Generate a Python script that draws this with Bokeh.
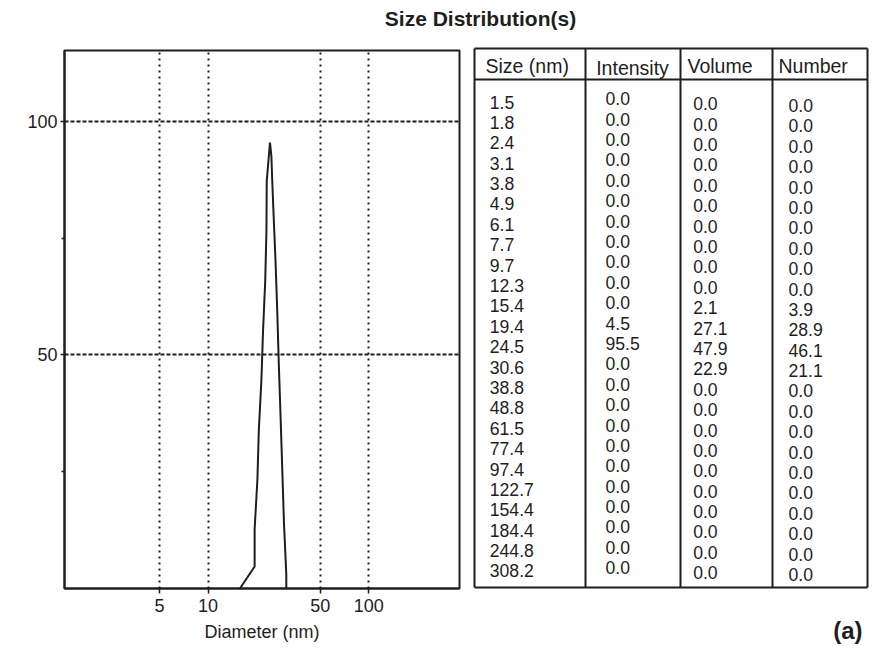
import math
from bokeh.plotting import figure
from bokeh.layouts import column, row
from bokeh.models import FixedTicker, Label, Range1d, NumeralTickFormatter
from bokeh.embed import file_html
from bokeh.resources import INLINE
from bokeh.core.properties import value

FONT = "Liberation Sans"
INK = "#1e1e1e"

# ---------------- data ----------------
sizes = ["1.5", "1.8", "2.4", "3.1", "3.8", "4.9", "6.1", "7.7", "9.7", "12.3",
         "15.4", "19.4", "24.5", "30.6", "38.8", "48.8", "61.5", "77.4", "97.4",
         "122.7", "154.4", "184.4", "244.8", "308.2"]
intensity = [0.0, 0.0, 0.0, 0.0, 0.0, 0.0, 0.0, 0.0, 0.0, 0.0,
             0.0, 4.5, 95.5, 0.0, 0.0, 0.0, 0.0, 0.0, 0.0,
             0.0, 0.0, 0.0, 0.0, 0.0]
volume = [0.0, 0.0, 0.0, 0.0, 0.0, 0.0, 0.0, 0.0, 0.0, 0.0,
          2.1, 27.1, 47.9, 22.9, 0.0, 0.0, 0.0, 0.0, 0.0,
          0.0, 0.0, 0.0, 0.0, 0.0]
number = [0.0, 0.0, 0.0, 0.0, 0.0, 0.0, 0.0, 0.0, 0.0, 0.0,
          3.9, 28.9, 46.1, 21.1, 0.0, 0.0, 0.0, 0.0, 0.0,
          0.0, 0.0, 0.0, 0.0, 0.0]
headers = ["Size (nm)", "Intensity", "Volume", "Number"]

# intensity distribution curve
curve_d = [15.8, 19.5, 19.5, 20.3, 20.7, 21.5, 22.0, 22.7, 23.1, 23.2, 24.3,
           24.8, 25.1, 25.5, 26.3, 27.0, 27.6, 28.3, 29.0, 29.7, 30.7, 30.7]
curve_v = [0.0, 4.7, 12.7, 23.4, 33.7, 44.8, 55.2, 65.9, 76.6, 87.3, 95.5,
           92.5, 87.3, 81.3, 70.2, 58.8, 47.6, 36.5, 25.1, 13.9, 3.0, 0.0]

x_ticks = [5, 10, 50, 100]
x_tick_labels = {5: "5", 10: "10", 50: "50", 100: "100"}
y_ticks = [50, 100]
y_minor = [25, 75]

title_text = "Size Distribution(s)"
x_label = "Diameter (nm)"
y_label = "% in class"
panel_tag = "(a)"

W_LEFT, W_RIGHT, H_TITLE, H_MAIN = 470, 405, 40, 608

# ---------------- title strip ----------------
t = figure(width=W_LEFT + W_RIGHT, height=H_TITLE,
           x_range=Range1d(0, W_LEFT + W_RIGHT), y_range=Range1d(0, H_TITLE),
           x_axis_location=None, y_axis_location=None, min_border=0,
           output_backend="svg", toolbar_location=None)
t.grid.visible = False
t.outline_line_color = None
t.frame_align = False
t.text(x=[480], y=[22], text=[title_text], text_font=value(FONT),
       text_font_size="21px", text_font_style="bold", text_color=INK,
       text_align="center", text_baseline="middle")

# ---------------- distribution plot ----------------
p = figure(width=W_LEFT, height=H_MAIN, x_axis_type="log",
           x_range=Range1d(1.28, 367), y_range=Range1d(0, 115.2),
           min_border_left=64, min_border_right=11, min_border_top=10,
           min_border_bottom=60, output_backend="svg", toolbar_location=None)
p.frame_align = False
p.outline_line_color = INK
p.outline_line_width = 2

p.xaxis.ticker = FixedTicker(ticks=x_ticks)
p.xaxis.formatter = NumeralTickFormatter(format="0")
p.xaxis.major_label_overrides = x_tick_labels
p.yaxis.ticker = FixedTicker(ticks=y_ticks, minor_ticks=y_minor)

for ax in (p.xaxis[0], p.yaxis[0]):
    ax.axis_line_color = INK
    ax.axis_line_width = 2
    ax.major_tick_line_color = INK
    ax.major_tick_line_width = 1.5
    ax.major_tick_in = 0
    ax.major_label_text_font = FONT
    ax.major_label_text_font_size = "18px"
    ax.major_label_text_color = INK

p.xaxis.major_tick_out = 5
p.xaxis.minor_tick_line_color = None
p.xaxis.major_label_standoff = 5
p.xaxis.axis_label = x_label
p.xaxis.axis_label_text_font = FONT
p.xaxis.axis_label_text_font_size = "18px"
p.xaxis.axis_label_text_font_style = "normal"
p.xaxis.axis_label_text_color = INK
p.xaxis.axis_label_standoff = 7

p.yaxis.major_tick_out = 4
p.yaxis.minor_tick_out = 3
p.yaxis.minor_tick_in = 0
p.yaxis.minor_tick_line_color = INK
p.yaxis.minor_tick_line_width = 1.5
p.yaxis.major_label_standoff = 3

p.xgrid.grid_line_color = INK
p.xgrid.grid_line_width = 2
p.xgrid.grid_line_dash = "2 4"
p.ygrid.grid_line_color = INK
p.ygrid.grid_line_width = 2
p.ygrid.grid_line_dash = "4 2"

p.line(curve_d, curve_v, line_color=INK, line_width=2)

p.add_layout(Label(x=0.69, y=95.7, text=y_label, angle=math.pi / 2,
                   text_align="center", text_baseline="middle",
                   text_font=FONT, text_font_size="18px", text_color=INK))

# ---------------- table ----------------
tb = figure(width=W_RIGHT, height=H_MAIN, x_range=Range1d(0, W_RIGHT),
            y_range=Range1d(0, H_MAIN),
            x_axis_location=None, y_axis_location=None, min_border=0,
            output_backend="svg", toolbar_location=None)
tb.frame_align = False
tb.grid.visible = False
tb.outline_line_color = None

left, right, top, bottom, head = 4, 397, 600, 61, 569
cols = [115, 210, 302]
tb.segment(x0=[left, left, left] + cols + [left, right],
           y0=[top, head, bottom] + [top] * 3 + [top, top],
           x1=[right, right, right] + cols + [left, right],
           y1=[top, head, bottom] + [bottom] * 3 + [bottom, bottom],
           line_color=INK, line_width=2)

tb.text(x=[15, 125.7, 217, 308], y=[583, 580.7, 583, 583], text=headers,
        text_font=value(FONT), text_font_size="19.5px", text_color=INK,
        text_align="left", text_baseline="middle")

step = 20.39
columns = [
    (sizes, 19.3, 546.5),
    (["%.1f" % v for v in intensity], 135, 549.7),
    (["%.1f" % v for v in volume], 222.7, 544.7),
    (["%.1f" % v for v in number], 318, 543.0),
]
for labels, x0, y0 in columns:
    tb.text(x=[x0] * len(labels), y=[y0 - i * step for i in range(len(labels))],
            text=labels, text_font=value(FONT), text_font_size="17.6px",
            text_color=INK, text_align="left", text_baseline="middle")

tb.text(x=[392], y=[18], text=[panel_tag], text_font=value(FONT),
        text_font_size="24px", text_font_style="bold", text_color=INK,
        text_align="right", text_baseline="middle")

layout = column(t, row(p, tb))
open("out.html", "w").write(file_html(layout, INLINE))
